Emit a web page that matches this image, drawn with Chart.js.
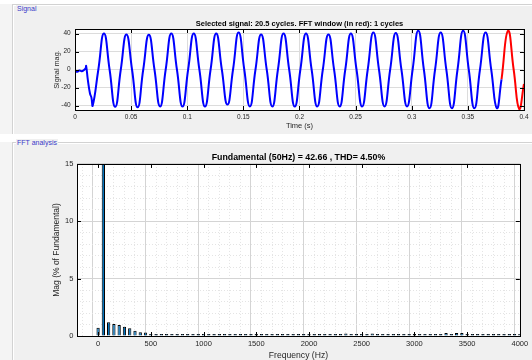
<!DOCTYPE html>
<html>
<head>
<meta charset="utf-8">
<script src="https://cdn.jsdelivr.net/npm/chart.js@4.4.1/dist/chart.umd.min.js"></script>
<style>
  html, body { margin: 0; padding: 0; width: 532px; height: 360px; overflow: hidden; background: #f4f4f4; font-family: "Liberation Sans", Arial, sans-serif; }
  .gap { position: absolute; left: 0; width: 532px; background: #fff; }
  .panel { position: absolute; left: 12px; width: 524px; background: #f0f0f0; border-top: 1px solid #d2d2d2; border-left: 1px solid #d2d2d2; box-shadow: inset 1px 1px 0 #fff; }
  .ptitle { position: absolute; left: 3px; font-size: 7px; line-height: 8px; color: #3a3ac8; background: #f0f0f0; padding: 0 1px; }
  canvas { position: absolute; left: 0; }
</style>
</head>
<body>
<div class="gap" style="top:0;height:4px"></div>
<div class="panel" style="top:4px;height:129px"><span class="ptitle" style="top:0">Signal</span></div>
<div class="gap" style="top:134px;height:8px"></div>
<div class="panel" style="top:142px;height:230px"><span class="ptitle" style="top:-4px">FFT analysis</span></div>
<canvas id="sig" width="532" height="134" style="top:0"></canvas>
<canvas id="fft" width="532" height="224" style="top:140px"></canvas>
<script>
// signal trace (blue) at peaks / troughs / crossings
const sigTime = [0, 0.002, 0.004, 0.006, 0.008, 0.0095, 0.0099, 0.0115, 0.0134, 0.0146, 0.0158,
  0.0208, 0.0258, 0.0308, 0.0358, 0.0408, 0.0458, 0.0508, 0.0558, 0.0608, 0.0658,
  0.0708, 0.0758, 0.0808, 0.0858, 0.0908, 0.0958, 0.1008, 0.1058, 0.1108, 0.1158,
  0.1208, 0.1258, 0.1308, 0.1358, 0.1408, 0.1458, 0.1508, 0.1558, 0.1608, 0.1658,
  0.1708, 0.1758, 0.1808, 0.1858, 0.1908, 0.1958, 0.2008, 0.2058, 0.2108, 0.2158,
  0.2208, 0.2258, 0.2308, 0.2358, 0.2408, 0.2458, 0.2508, 0.2558, 0.2608, 0.2658,
  0.2708, 0.2758, 0.2808, 0.2858, 0.2908, 0.2958, 0.3008, 0.3058, 0.3108, 0.3158,
  0.3208, 0.3258, 0.3308, 0.3358, 0.3408, 0.3458, 0.3508, 0.3558, 0.3608, 0.3658,
  0.3708, 0.3758, 0.38];
const sigMag = [-1.5, -2.5, -1, -2, -0.5, 1.5, 4, -12, -27, -31, -40,
  0, 40, 0, -41.5, 0, 39, 0, -42, 0, 38.5,
  0, -41, 0, 40, 0, -41, 0, 40, 0, -41,
  0, 40, 0, -39, 0, 41, 0, -41, 0, 39,
  0, -41, 0, 40, 0, -41, 0, 40, 0, -41,
  0, 39, 0, -41, 0, 40, 0, -41, 0, 41,
  0, -41, 0, 40.5, 0, -41, 0, 43, 0, -43,
  0, 41, 0, -43, 0, 43, 0, -43, 0, 41,
  0, -43, -11];
// FFT window (red)
const winTime = [0.38, 0.3858, 0.3908, 0.3958, 0.4];
const winMag = [-11, 43, 0, -44, -16];

const timeTicks = [0, 0.05, 0.1, 0.15, 0.2, 0.25, 0.3, 0.35, 0.4];
const magTicks = [-40, -20, 0, 20, 40];

// harmonic spectrum, % of fundamental
const fftFreqs = [0, 50, 100, 150, 200, 250, 300, 350, 400, 450, 500, 550, 600, 650, 700, 750,
  800, 850, 900, 950, 1000, 1050, 1100, 1150, 1200, 1250, 1300, 1350, 1400, 1450, 1500,
  1550, 1600, 1650, 1700, 1750, 1800, 1850, 1900, 1950, 2000, 2050, 2100, 2150, 2200,
  2250, 2300, 2350, 2400, 2450, 2500, 2550, 2600, 2650, 2700, 2750, 2800, 2850, 2900,
  2950, 3000, 3050, 3100, 3150, 3200, 3250, 3300, 3350, 3400, 3450, 3500, 3550, 3600,
  3650, 3700, 3750, 3800, 3850, 3900, 3950, 4000];
const fftMag = [0.72, 100, 1.19, 1.05, 0.95, 0.8, 0.67, 0.45, 0.33, 0.3, 0.15,
  0.12, 0.1, 0.09, 0.09, 0.1, 0.15, 0.17, 0.12, 0.13, 0.15,
  0.12, 0.13, 0.1, 0.09, 0.09, 0.14, 0.09, 0.08, 0.08, 0.09,
  0.12, 0.12, 0.12, 0.12, 0.09, 0.12, 0.1, 0.09, 0.1, 0.1,
  0.09, 0.12, 0.1, 0.12, 0.09, 0.12, 0.22, 0.1, 0.09, 0.12,
  0.14, 0.22, 0.12, 0.1, 0.12, 0.1, 0.1, 0.1, 0.09, 0.12,
  0.1, 0.12, 0.09, 0.12, 0.14, 0.27, 0.12, 0.27, 0.27, 0.12,
  0.09, 0.1, 0.1, 0.09, 0.1, 0.12, 0.09, 0.09, 0.1, 0.12];
const freqTicks = [0, 500, 1000, 1500, 2000, 2500, 3000, 3500, 4000];
const fftTicks = [0, 5, 10, 15];

const FONT = '"Liberation Sans", Arial, sans-serif';
const TXT = '#262626';

// white plot area, black box and inward ticks like matlab axes
const axesBox = {
  id: 'axesBox',
  beforeDraw(chart) {
    const a = chart.chartArea, c = chart.ctx;
    c.save();
    c.fillStyle = '#fff';
    c.fillRect(a.left, a.top, a.right - a.left, a.bottom - a.top);
    c.restore();
  },
  afterDraw(chart, args, opts) {
    const a = chart.chartArea, c = chart.ctx;
    const xs = chart.scales.x, ys = chart.scales.y;
    c.save();
    c.strokeStyle = '#000';
    c.lineWidth = 1;
    c.strokeRect(Math.round(a.left) + 0.5, Math.round(a.top) + 0.5, Math.round(a.right - a.left), Math.round(a.bottom - a.top));
    c.beginPath();
    opts.xMajor.forEach(v => {
      const px = Math.round(xs.getPixelForValue(v)) + 0.5;
      c.moveTo(px, a.top); c.lineTo(px, a.top + 4);
      c.moveTo(px, a.bottom); c.lineTo(px, a.bottom - 4);
    });
    opts.yMajor.forEach(v => {
      const py = Math.round(ys.getPixelForValue(v)) + 0.5;
      c.moveTo(a.left, py); c.lineTo(a.left + 4, py);
      c.moveTo(a.right, py); c.lineTo(a.right - 4, py);
    });
    c.stroke();
    c.restore();
  }
};

new Chart(document.getElementById('sig'), {
  type: 'line',
  data: {
    datasets: [
      {
        data: sigTime.map((t, i) => ({ x: t, y: sigMag[i] })),
        borderColor: '#0000ff', borderWidth: 2, pointRadius: 0, tension: 0.5
      },
      {
        data: winTime.map((t, i) => ({ x: t, y: winMag[i] })),
        borderColor: '#ff0000', borderWidth: 2, pointRadius: 0, tension: 0.5
      }
    ]
  },
  options: {
    responsive: false, animation: false, events: [],
    layout: { padding: { left: 48, right: 8, top: 0, bottom: 0 } },
    plugins: {
      legend: { display: false },
      tooltip: { enabled: false },
      title: {
        display: true, fullSize: false, color: '#000',
        text: 'Selected signal: 20.5 cycles. FFT window (in red): 1 cycles',
        font: { family: FONT, size: 7.5, weight: 'bold' },
        padding: { top: 19, bottom: 1 }
      },
      axesBox: { xMajor: timeTicks, yMajor: magTicks }
    },
    scales: {
      x: {
        type: 'linear', min: 0, max: 0.4,
        afterBuildTicks: s => { s.ticks = timeTicks.map(v => ({ value: v })); },
        afterFit: s => { s.height = 24; },
        grid: { color: '#dcdcdc', drawTicks: false },
        border: { display: false },
        ticks: { padding: 3.5, color: TXT, font: { family: FONT, size: 6.5 }, maxRotation: 0, autoSkip: false, callback: v => String(v) },
        title: { display: true, text: 'Time (s)', color: TXT, font: { family: FONT, size: 7.5 }, padding: { top: 0, bottom: 3.8 } }
      },
      y: {
        min: -45, max: 45,
        afterBuildTicks: s => { s.ticks = magTicks.map(v => ({ value: v })); },
        afterFit: s => { s.width = 27; },
        grid: { color: '#dcdcdc', drawTicks: false },
        border: { display: false },
        ticks: { padding: 4.3, color: TXT, font: { family: FONT, size: 6.5 }, callback: v => String(v) },
        title: { display: true, text: 'Signal mag.', color: TXT, font: { family: FONT, size: 7.3 }, padding: { top: 5, bottom: 0 } }
      }
    }
  },
  plugins: [axesBox]
});

// minor grid every 100 Hz / 1 %, major at the labelled ticks
const isMajorX = c => !c.tick || freqTicks.includes(c.tick.value);
const isMajorY = c => !c.tick || fftTicks.includes(c.tick.value);

new Chart(document.getElementById('fft'), {
  type: 'bar',
  data: {
    datasets: [{
      data: fftFreqs.map((f, i) => ({ x: f, y: fftMag[i] })),
      backgroundColor: '#0072bd', borderColor: '#000', borderWidth: 1,
      categoryPercentage: 1, barPercentage: 0.62, minBarLength: 2
    }]
  },
  options: {
    responsive: false, animation: false, events: [],
    layout: { padding: { left: 48, right: 12, top: 0, bottom: 0 } },
    plugins: {
      legend: { display: false },
      tooltip: { enabled: false },
      title: {
        display: true, fullSize: false, color: '#000',
        text: 'Fundamental (50Hz) = 42.66 , THD= 4.50%',
        font: { family: FONT, size: 8.8, weight: 'bold' },
        padding: { top: 12.7, bottom: 0.7 }
      },
      axesBox: { xMajor: freqTicks, yMajor: fftTicks }
    },
    scales: {
      x: {
        type: 'linear', min: -200, max: 4000, offset: false,
        afterBuildTicks: s => {
          const t = [];
          for (let v = -200; v <= 4000; v += 100) t.push({ value: v });
          s.ticks = t;
        },
        afterFit: s => { s.height = 28; },
        grid: { drawTicks: false, color: c => isMajorX(c) ? '#d4d4d4' : '#e4e4e4' },
        border: { display: false, dash: c => isMajorX(c) ? [] : [1, 2] },
        ticks: { padding: 3.8, color: TXT, font: { family: FONT, size: 7.5 }, maxRotation: 0, autoSkip: false,
          callback: v => freqTicks.includes(v) ? String(v) : '' },
        title: { display: true, text: 'Frequency (Hz)', color: TXT, font: { family: FONT, size: 8.6 }, padding: { top: 0, bottom: 2.8 } }
      },
      y: {
        min: 0, max: 15,
        afterBuildTicks: s => {
          const t = [];
          for (let v = 0; v <= 15; v += 1) t.push({ value: v });
          s.ticks = t;
        },
        afterFit: s => { s.width = 29; },
        grid: { drawTicks: false, color: c => isMajorY(c) ? '#d4d4d4' : '#e4e4e4' },
        border: { display: false, dash: c => isMajorY(c) ? [] : [1, 2] },
        ticks: { padding: 3.7, color: TXT, font: { family: FONT, size: 7.5 }, autoSkip: false,
          callback: v => fftTicks.includes(v) ? String(v) : '' },
        title: { display: true, text: 'Mag (% of Fundamental)', color: TXT, font: { family: FONT, size: 8.5 }, padding: { top: 3.5, bottom: 0 } }
      }
    }
  },
  plugins: [axesBox]
});
</script>
</body>
</html>
